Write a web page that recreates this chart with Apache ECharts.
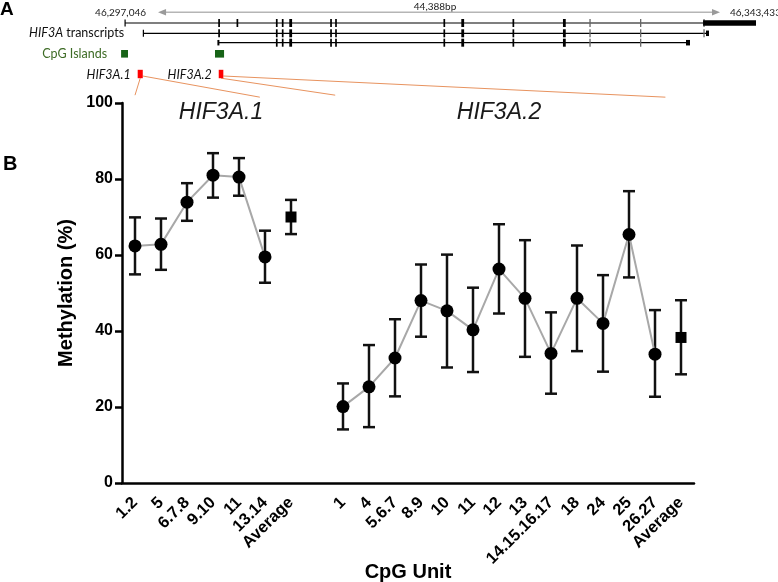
<!DOCTYPE html>
<html><head><meta charset="utf-8">
<script src="https://cdn.jsdelivr.net/npm/echarts@6/dist/echarts.min.js"></script>
<style>html,body{margin:0;padding:0;background:#fff}#c{width:778px;height:582px}</style>
</head><body><div id="c"></div>
<script>
// ---------- Panel B data ----------
const hif1Units = ['1.2','5','6.7.8','9.10','11','13.14'];
const hif1Mean  = [62.4, 62.8, 73.9, 81.0, 80.5, 59.5];
const hif1Low   = [54.9, 56.1, 69.0, 75.1, 75.6, 52.7];
const hif1High  = [69.9, 69.6, 78.9, 86.8, 85.5, 66.4];
const hif1Avg   = [70.0, 65.5, 74.5]; // mean, low, high

const hif2Units = ['1','4','5.6.7','8.9','10','11','12','13','14.15.16.17','18','24','25','26.27'];
const hif2Mean  = [20.1, 25.3, 32.9, 48.0, 45.3, 40.3, 56.3, 48.6, 34.1, 48.6, 42.0, 65.4, 33.9];
const hif2Low   = [14.1, 14.7, 22.8, 38.5, 30.4, 29.2, 44.6, 33.2, 23.5, 34.7, 29.3, 54.1, 22.7];
const hif2High  = [26.2, 36.3, 43.1, 57.5, 60.1, 51.4, 68.1, 63.9, 44.9, 62.5, 54.7, 76.8, 45.5];
const hif2Avg   = [38.3, 28.6, 48.1];

const yTicks = [0, 20, 40, 60, 80, 100];

// ---------- Panel A data (positions in kb from 46,297,046) ----------
const regionStartLabel = '46,297,046';
const regionEndLabel = '46,343,433';
const regionSpanLabel = '44,388bp';
const arrowKb = [0, 46.39];
const transcriptKb = [[-2.72, 49.36], [-1.21, 45.48], [4.98, 43.75]];
const transcriptStartTickKb = [-2.72, -1.21];
const exonKb   = [5.04, 6.55, 9.80, 10.29, 10.95, 14.28, 14.69, 23.63, 25.15, 29.33, 33.54, 35.66, 39.84, 45.07];
const exonKind = [0, 0, 0, 0, 1, 0, 0, 0, 1, 0, 1, 2, 2, 2]; // 0 thin, 1 thick, 2 faint
const transcriptExons = [
  [0,1,2,3,4,5,6,7,8,9,10,11,12,13],
  [0,2,3,4,5,6,7,8,9,10,11,12,13],
  [2,3,4,5,6,7,8,9,10,11,12]
];
const utrKb = [[44.99, 49.36, 0], [45.23, 45.48, 1], [43.58, 43.91, 2], [4.90, 5.06, 2]];
const cpgIslandKb = [[-3.05, -2.48], [4.70, 5.45]];
const ampliconNames = ['HIF3A.1', 'HIF3A.2'];
const ampliconKb = [[-1.68, -1.26], [5.01, 5.39]];
const ampliconLinkCat = [[0, 4.8], [7.7, 20.4]]; // where each amplicon fans out onto the CpG-unit axis

// ---------- layout / style ----------
const ROW = {arrow: 12.3, tr: [23, 33.3, 42.7], cpg: 53.8, amp: 74};
const FONT = 'Liberation Sans, Arial, sans-serif';
const GFONT = 'Lato, Open Sans, sans-serif';

const categories = [...hif1Units, 'Average', '', ...hif2Units, 'Average'];
const off2 = hif1Units.length + 2;
const avg1Idx = hif1Units.length, avg2Idx = categories.length - 1;

const errData = [];
hif1Mean.forEach((v, i) => errData.push([i, hif1Low[i], hif1High[i]]));
errData.push([avg1Idx, hif1Avg[1], hif1Avg[2]]);
hif2Mean.forEach((v, i) => errData.push([off2 + i, hif2Low[i], hif2High[i]]));
errData.push([avg2Idx, hif2Avg[1], hif2Avg[2]]);

const exonData = [];
transcriptExons.forEach((list, t) => list.forEach(e => exonData.push([exonKb[e], t, exonKind[e]])));

const chart = echarts.init(document.getElementById('c'), null, {renderer: 'canvas'});

const topSeries = (name, data, render, encode) => ({
  type: 'custom', name, xAxisIndex: 1, yAxisIndex: 1, data, clip: false, silent: true,
  encode: encode || {x: 0, y: 1}, renderItem: render
});

const option = {
  animation: false,
  backgroundColor: '#fff',
  textStyle: {fontFamily: FONT},
  grid: [
    {left: 122, right: 84, top: 103, bottom: 99, containLabel: false, outerBoundsMode: 'none'},
    {left: 120, right: 18, top: 0, height: 80, containLabel: false, outerBoundsMode: 'none'}
  ],
  xAxis: [
    {
      type: 'category', gridIndex: 0, data: categories, boundaryGap: true,
      name: 'CpG Unit', nameLocation: 'middle', nameGap: 79, nameMoveOverlap: false,
      nameTextStyle: {fontSize: 20, fontWeight: 'bold', color: '#000', fontFamily: FONT},
      axisLine: {lineStyle: {color: '#000', width: 2.5}},
      axisTick: {alignWithLabel: true, length: 8, lineStyle: {color: '#000', width: 2.5},
                 interval: (i, v) => v !== ''},
      axisLabel: {interval: 0, rotate: 45, margin: 17, fontSize: 16.5, fontWeight: 'bold', color: '#000', fontFamily: FONT},
      splitLine: {show: false}
    },
    {type: 'value', gridIndex: 1, min: -3.14, max: 49.69, show: false}
  ],
  yAxis: [
    {
      type: 'value', gridIndex: 0, min: 0, max: 100, interval: 20,
      name: 'Methylation (%)', nameLocation: 'middle', nameGap: 46, nameMoveOverlap: false,
      nameTextStyle: {fontSize: 20, fontWeight: 'bold', color: '#000', fontFamily: FONT},
      axisLine: {show: true, lineStyle: {color: '#000', width: 2.5}},
      axisTick: {show: true, length: 7, lineStyle: {color: '#000', width: 2.5}},
      axisLabel: {margin: 9, fontSize: 16, fontWeight: 'bold', color: '#000', fontFamily: FONT,
                  formatter: v => yTicks.includes(v) ? String(v) : ''},
      splitLine: {show: false}
    },
    {type: 'value', gridIndex: 1, min: 0, max: 80, inverse: true, show: false}
  ],
  series: [
    {
      type: 'custom', name: 'err', xAxisIndex: 0, yAxisIndex: 0, data: errData, z: 2,
      encode: {x: 0, y: [1, 2]},
      renderItem: (p, api) => {
        const x = api.value(0);
        const lo = api.coord([x, api.value(1)]), hi = api.coord([x, api.value(2)]);
        const hw = 6, st = {stroke: '#111', lineWidth: 2.5};
        return {type: 'group', children: [
          {type: 'line', shape: {x1: lo[0], y1: lo[1], x2: hi[0], y2: hi[1]}, style: st},
          {type: 'line', shape: {x1: lo[0] - hw, y1: lo[1], x2: lo[0] + hw, y2: lo[1]}, style: st},
          {type: 'line', shape: {x1: hi[0] - hw, y1: hi[1], x2: hi[0] + hw, y2: hi[1]}, style: st}
        ]};
      }
    },
    {
      type: 'line', name: 'HIF3A.1', xAxisIndex: 0, yAxisIndex: 0, z: 3,
      data: hif1Mean.map((v, i) => [i, v]),
      symbol: 'circle', symbolSize: 13, itemStyle: {color: '#000', opacity: 1},
      lineStyle: {color: '#a8a8a8', width: 2}
    },
    {
      type: 'line', name: 'HIF3A.2', xAxisIndex: 0, yAxisIndex: 0, z: 3,
      data: hif2Mean.map((v, i) => [off2 + i, v]),
      symbol: 'circle', symbolSize: 13, itemStyle: {color: '#000', opacity: 1},
      lineStyle: {color: '#a8a8a8', width: 2}
    },
    {
      type: 'scatter', name: 'Average', xAxisIndex: 0, yAxisIndex: 0, z: 3,
      data: [[avg1Idx, hif1Avg[0]], [avg2Idx, hif2Avg[0]]],
      symbol: 'rect', symbolSize: 11, itemStyle: {color: '#000', opacity: 1}
    },
    // ---- Panel A ----
    topSeries('arrow', [arrowKb], (p, api) => {
      const a = api.coord([api.value(0), ROW.arrow]), b = api.coord([api.value(1), ROW.arrow]);
      const y = a[1];
      return {type: 'group', children: [
        {type: 'line', shape: {x1: a[0] + 6, y1: y, x2: b[0] - 6, y2: y}, style: {stroke: '#b5b5b5', lineWidth: 1.5}},
        {type: 'polygon', shape: {points: [[a[0], y], [a[0] + 8, y - 3.2], [a[0] + 8, y + 3.2]]}, style: {fill: '#9a9a9a'}},
        {type: 'polygon', shape: {points: [[b[0], y], [b[0] - 8, y - 3.2], [b[0] - 8, y + 3.2]]}, style: {fill: '#9a9a9a'}}
      ]};
    }, {x: [0, 1]}),
    topSeries('transcripts', transcriptKb.map((s, i) => [s[0], s[1], i]), (p, api) => {
      const y = ROW.tr[api.value(2)];
      const a = api.coord([api.value(0), y]), b = api.coord([api.value(1), y]);
      return {type: 'line', shape: {x1: a[0], y1: a[1], x2: b[0], y2: b[1]}, style: {stroke: '#000', lineWidth: 1.2}};
    }, {x: [0, 1]}),
    topSeries('startTicks', transcriptStartTickKb.map((v, i) => [v, i]), (p, api) => {
      const c = api.coord([api.value(0), ROW.tr[api.value(1)]]);
      return {type: 'line', shape: {x1: c[0], y1: c[1] - 3.5, x2: c[0], y2: c[1] + 3.5}, style: {stroke: '#000', lineWidth: 1.2}};
    }, {x: 0}),
    topSeries('exons', exonData, (p, api) => {
      const k = api.value(2);
      const c = api.coord([api.value(0), ROW.tr[api.value(1)]]);
      const w = [1.7, 2.8, 1.3][k], col = ['#000', '#000', '#666'][k];
      return {type: 'rect', shape: {x: c[0] - w / 2, y: c[1] - 4, width: w, height: 8}, style: {fill: col}};
    }, {x: 0}),
    topSeries('utr', utrKb, (p, api) => {
      const y = ROW.tr[api.value(2)];
      const a = api.coord([api.value(0), y]), b = api.coord([api.value(1), y]);
      const h = 5.5;
      return {type: 'rect', shape: {x: a[0], y: a[1] - h / 2, width: Math.max(b[0] - a[0], 2), height: h}, style: {fill: '#000'}};
    }, {x: [0, 1]}),
    topSeries('cpg', cpgIslandKb, (p, api) => {
      const a = api.coord([api.value(0), ROW.cpg]), b = api.coord([api.value(1), ROW.cpg]);
      return {type: 'rect', shape: {x: a[0], y: a[1] - 3.8, width: b[0] - a[0], height: 7.6}, style: {fill: '#176317'}};
    }, {x: [0, 1]}),
    topSeries('amplicons', ampliconKb, (p, api) => {
      const a = api.coord([api.value(0), ROW.amp]), b = api.coord([api.value(1), ROW.amp]);
      return {type: 'rect', shape: {x: a[0], y: a[1] - 4.2, width: b[0] - a[0], height: 8.4}, style: {fill: '#ff0000'}};
    }, {x: [0, 1]})
  ]
};
chart.setOption(option);

// ---------- annotations ----------
function catPx(pos) {
  const i = Math.floor(pos), f = pos - i;
  const p0 = chart.convertToPixel({xAxisIndex: 0}, i);
  const p1 = chart.convertToPixel({xAxisIndex: 0}, i + 1);
  return p0 + f * (p1 - p0);
}
function topPx(kb, y) { return chart.convertToPixel({xAxisIndex: 1, yAxisIndex: 1}, [kb, y]); }
const linkY = chart.convertToPixel({yAxisIndex: 0}, 101.8);

const txt = (x, y, text, font, fill, align, extra) => Object.assign({
  type: 'text', x, y, silent: true,
  style: Object.assign({text, font, fill, align, textAlign: align, verticalAlign: 'middle', textVerticalAlign: 'middle'}, extra || {})
});

const g = [];
ampliconKb.forEach((s, i) => {
  const mid = topPx((s[0] + s[1]) / 2, ROW.amp + 4.2);
  const right = topPx(s[1], ROW.amp + 2);
  const st = {stroke: '#e8935f', lineWidth: 1};
  g.push({type: 'line', silent: true, shape: {x1: mid[0], y1: mid[1], x2: catPx(ampliconLinkCat[i][0]), y2: linkY - 1}, style: st});
  g.push({type: 'line', silent: true, shape: {x1: right[0], y1: right[1], x2: catPx(ampliconLinkCat[i][1]), y2: linkY + 1}, style: st});
  const lab = topPx(s[0], ROW.amp + 0.5);
  g.push(txt(lab[0] - 7, lab[1], ampliconNames[i], 'italic 12.5px ' + GFONT, '#111', 'right'));
});
const aL = topPx(arrowKb[0], ROW.arrow), aR = topPx(arrowKb[1], ROW.arrow);
g.push(txt(aL[0] - 12, aL[1], regionStartLabel, '10px ' + GFONT, '#222', 'right'));
g.push(txt(aR[0] + 10, aR[1] + 0.5, regionEndLabel, '10px ' + GFONT, '#222', 'left'));
g.push(txt((aL[0] + aR[0]) / 2 - 4, aL[1] - 6, regionSpanLabel, '10px ' + GFONT, '#222', 'center'));
const t1 = topPx(transcriptKb[0][0], ROW.tr[1]);
g.push({type: 'text', x: t1[0] - 1, y: t1[1], silent: true, style: {
  text: '{i|HIF3A} transcripts', font: '12.5px ' + GFONT, fill: '#111', align: 'right', textAlign: 'right',
  verticalAlign: 'middle', textVerticalAlign: 'middle',
  rich: {i: {fontStyle: 'italic', fontSize: 12.5, fontFamily: GFONT, fill: '#111', color: '#111'}}
}});
const c1 = topPx(cpgIslandKb[0][0], ROW.cpg);
g.push(txt(c1[0] - 14, c1[1], 'CpG Islands', '12.5px ' + GFONT, '#3d6b25', 'right'));
g.push(txt(0, 10, 'A', 'bold 19px ' + FONT, '#000', 'left'));
g.push(txt(3, 164, 'B', 'bold 20px ' + FONT, '#000', 'left'));
g.push(txt((catPx(0) + catPx(5)) / 2 + 21, 113, 'HIF3A.1', 'italic 23px ' + FONT, '#1a1a1a', 'center'));
g.push(txt((catPx(8) + catPx(20)) / 2, 113, 'HIF3A.2', 'italic 23px ' + FONT, '#1a1a1a', 'center'));
chart.setOption({graphic: g});
</script></body></html>
